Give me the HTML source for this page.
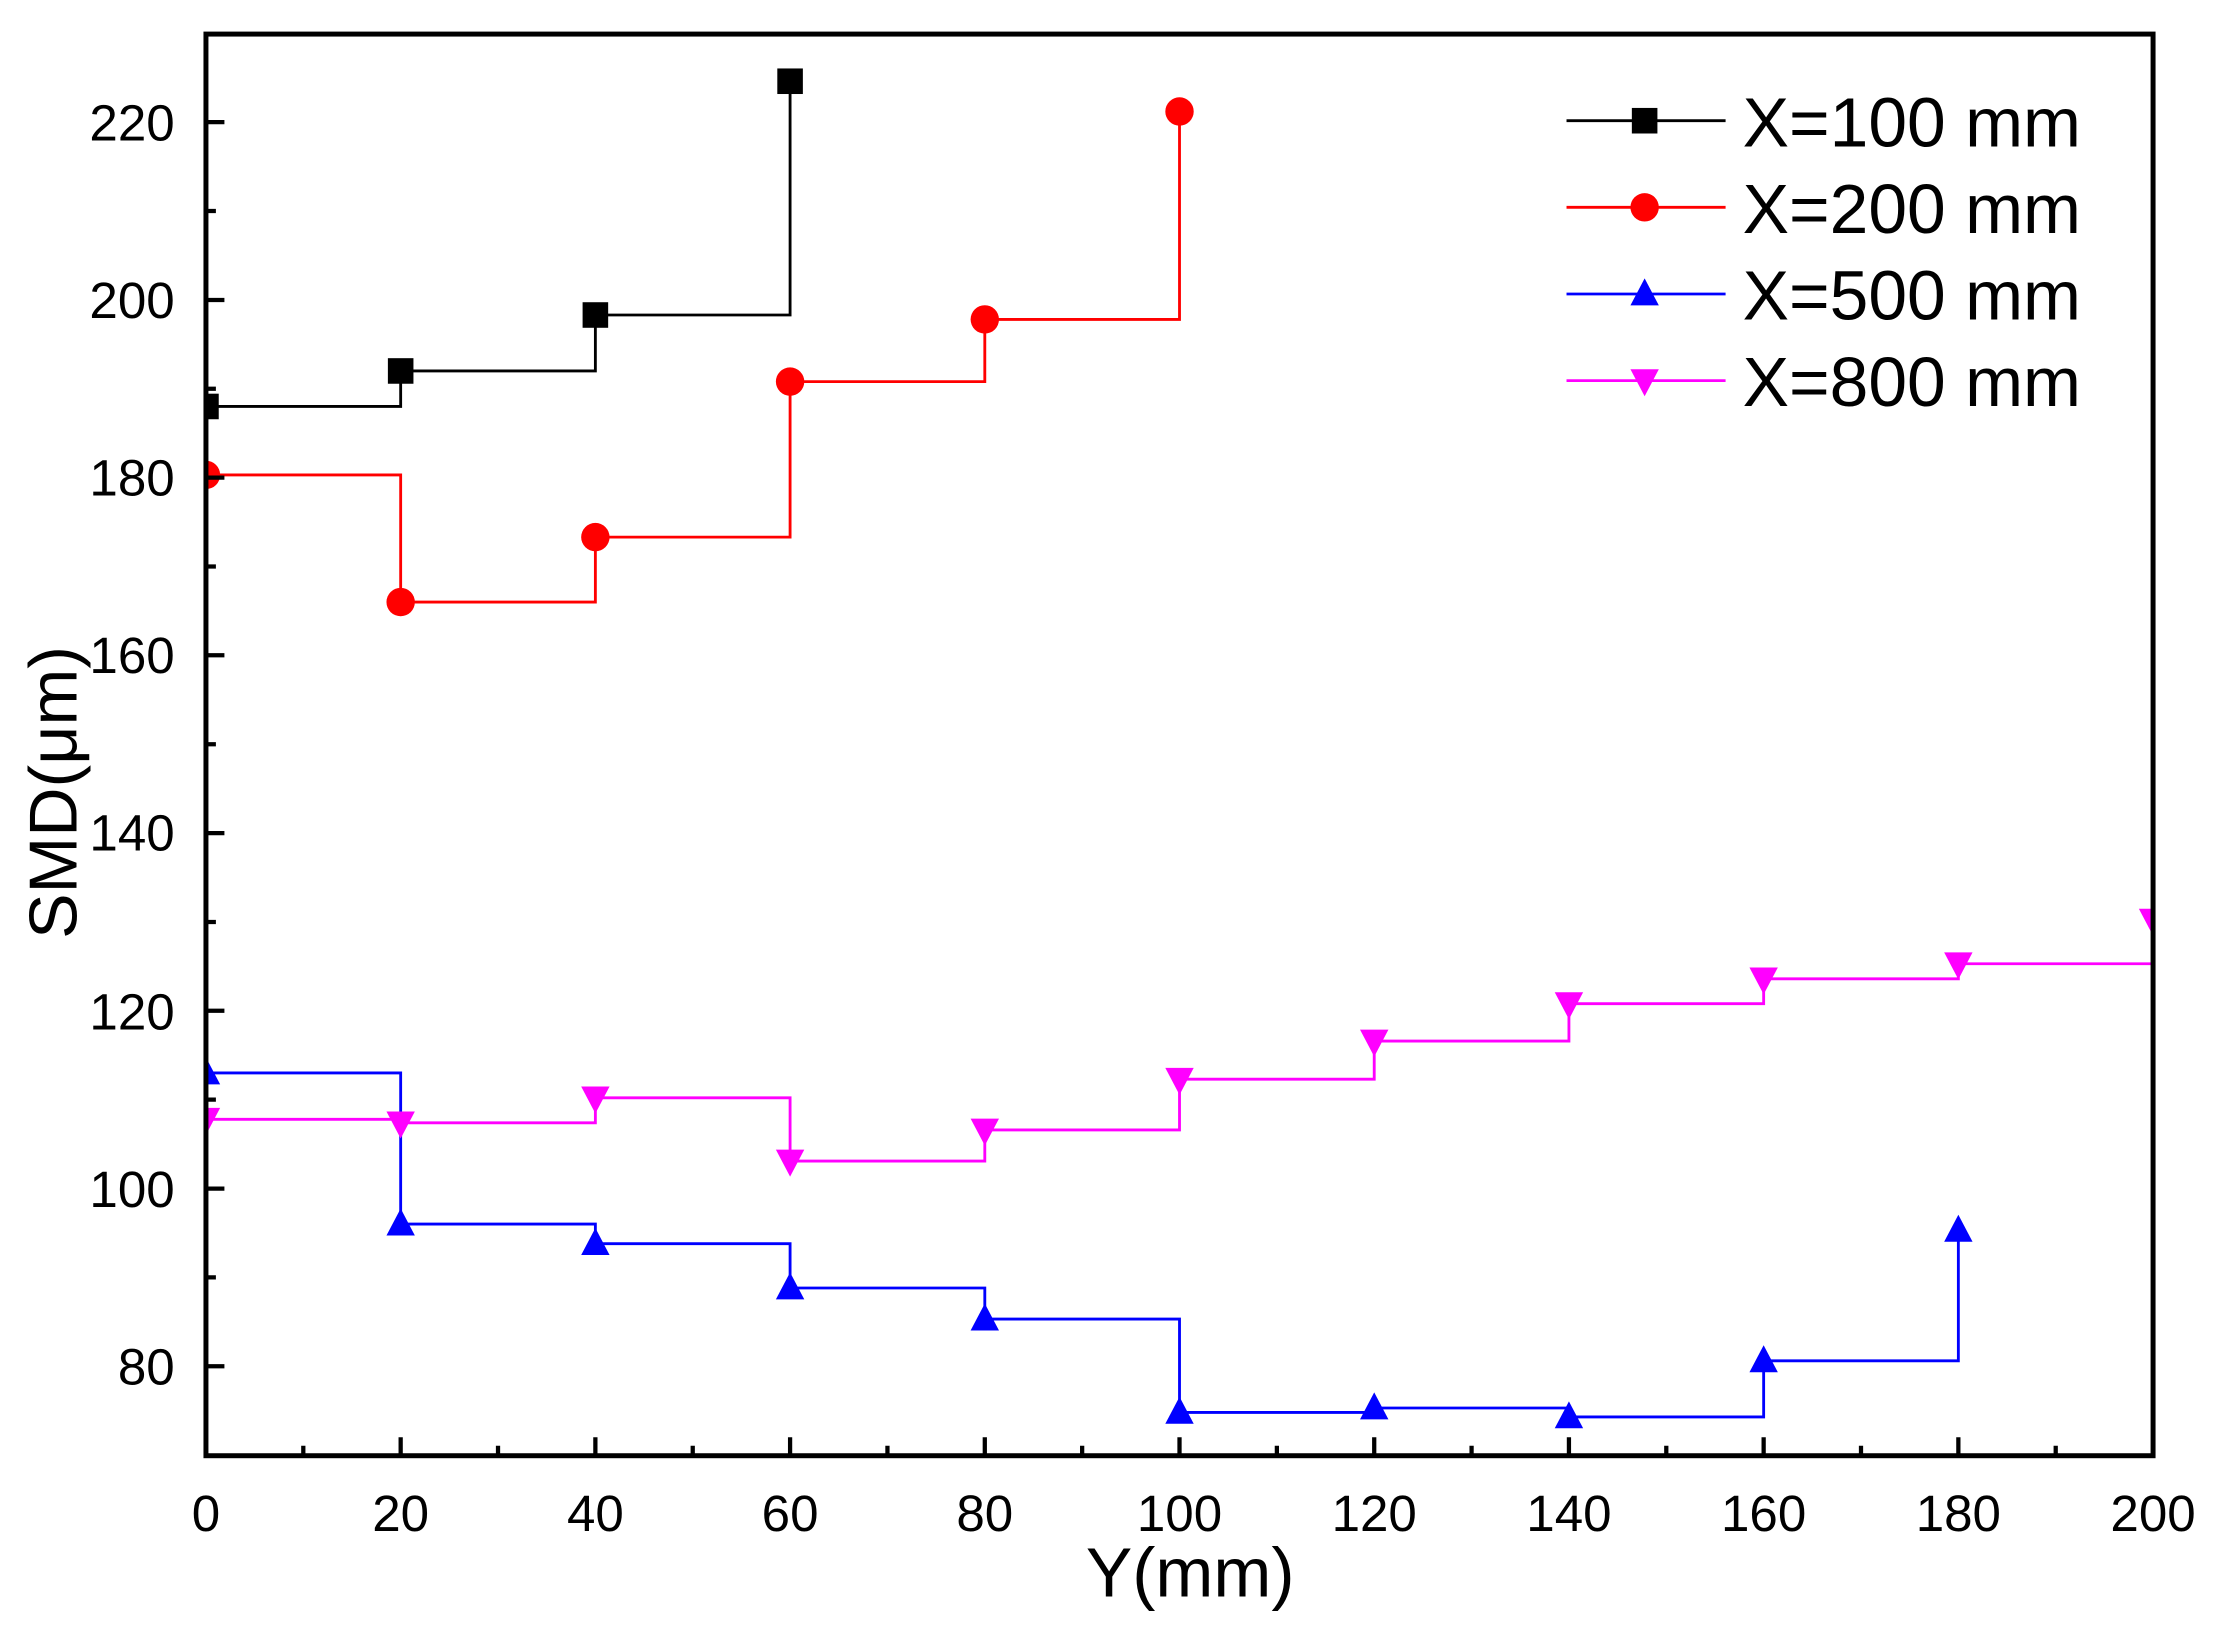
<!DOCTYPE html>
<html><head><meta charset="utf-8"><style>html,body{margin:0;padding:0;background:#fff}svg{display:block}</style></head>
<body>
<svg width="2217" height="1627" viewBox="0 0 1561 1145.6" xmlns="http://www.w3.org/2000/svg" xmlns:xlink="http://www.w3.org/1999/xlink" font-family="Liberation Sans, Arial, sans-serif">
<defs>
<clipPath id="c"><rect x="145" y="24" width="1371" height="1001"/></clipPath>
<rect id="sq" x="-9" y="-9" width="18" height="18" fill="#000"/>
<circle id="ci" cx="0" cy="0" r="10" fill="#ff0000"/>
<polygon id="up" points="0,-11 -10,8 10,8" fill="#0000ff"/>
<polygon id="dn" points="0,11 -10,-8 10,-8" fill="#ff00ff"/>
</defs>
<rect width="1561" height="1146" fill="#fff"/>
<g clip-path="url(#c)" fill="none" stroke-width="2">
<path stroke="#000" d="M145,286.2 H282.1 V261.2 H419.2 V221.8 H556.3 V57.2"/>
<path stroke="#ff0000" d="M145,334.4 H282.1 V423.9 H419.2 V378.2 H556.3 V268.7 H693.4 V224.9 H830.5 V78.5"/>
<path stroke="#0000ff" d="M145,755.5 H282.1 V861.9 H419.2 V875.7 H556.3 V906.9 H693.4 V928.8 H830.5 V994.5 H967.6 V991.4 H1104.7 V997.7 H1241.8 V958.2 H1378.9 V866.3"/>
<path stroke="#ff00ff" d="M145,788.1 H282.1 V790.6 H419.2 V773 H556.3 V817.5 H693.4 V795.6 H830.5 V759.9 H967.6 V733 H1104.7 V706.7 H1241.8 V689.2 H1378.9 V678.6 H1516 V647.9"/>
<use xlink:href="#sq" x="145" y="286.2"/><use xlink:href="#sq" x="282.1" y="261.2"/><use xlink:href="#sq" x="419.2" y="221.8"/><use xlink:href="#sq" x="556.3" y="57.2"/>
<use xlink:href="#ci" x="145" y="334.4"/><use xlink:href="#ci" x="282.1" y="423.9"/><use xlink:href="#ci" x="419.2" y="378.2"/><use xlink:href="#ci" x="556.3" y="268.7"/><use xlink:href="#ci" x="693.4" y="224.9"/><use xlink:href="#ci" x="830.5" y="78.5"/>
<use xlink:href="#up" x="145" y="755.5"/><use xlink:href="#up" x="282.1" y="861.9"/><use xlink:href="#up" x="419.2" y="875.7"/><use xlink:href="#up" x="556.3" y="906.9"/><use xlink:href="#up" x="693.4" y="928.8"/><use xlink:href="#up" x="830.5" y="994.5"/><use xlink:href="#up" x="967.6" y="991.4"/><use xlink:href="#up" x="1104.7" y="997.7"/><use xlink:href="#up" x="1241.8" y="958.2"/><use xlink:href="#up" x="1378.9" y="866.3"/>
<use xlink:href="#dn" x="145" y="788.1"/><use xlink:href="#dn" x="282.1" y="790.6"/><use xlink:href="#dn" x="419.2" y="773"/><use xlink:href="#dn" x="556.3" y="817.5"/><use xlink:href="#dn" x="693.4" y="795.6"/><use xlink:href="#dn" x="830.5" y="759.9"/><use xlink:href="#dn" x="967.6" y="733"/><use xlink:href="#dn" x="1104.7" y="706.7"/><use xlink:href="#dn" x="1241.8" y="689.2"/><use xlink:href="#dn" x="1378.9" y="678.6"/><use xlink:href="#dn" x="1516" y="647.9"/>
</g>
<rect x="145" y="24" width="1371" height="1001" fill="none" stroke="#000" stroke-width="3.5"/>
<path stroke="#000" stroke-width="3" fill="none" d="
M213.55,1025V1018 M282.1,1025V1012 M350.65,1025V1018 M419.2,1025V1012 M487.75,1025V1018 M556.3,1025V1012 M624.85,1025V1018 M693.4,1025V1012 M761.95,1025V1018 M830.5,1025V1012 M899.05,1025V1018 M967.6,1025V1012 M1036.15,1025V1018 M1104.7,1025V1012 M1173.25,1025V1018 M1241.8,1025V1012 M1310.35,1025V1018 M1378.9,1025V1012 M1447.45,1025V1018
M145,962H158 M145,899.4H152 M145,836.9H158 M145,774.3H152 M145,711.7H158 M145,649.2H152 M145,586.6H158 M145,524H152 M145,461.4H158 M145,398.9H152 M145,336.3H158 M145,273.7H152 M145,211.2H158 M145,148.6H152 M145,86H158"/>
<g font-size="36" fill="#000" text-anchor="middle">
<text x="145" y="1078">0</text><text x="282.1" y="1078">20</text><text x="419.2" y="1078">40</text><text x="556.3" y="1078">60</text><text x="693.4" y="1078">80</text><text x="830.5" y="1078">100</text><text x="967.6" y="1078">120</text><text x="1104.7" y="1078">140</text><text x="1241.8" y="1078">160</text><text x="1378.9" y="1078">180</text><text x="1516" y="1078">200</text>
</g>
<g font-size="36" fill="#000" text-anchor="end">
<text x="123" y="975">80</text><text x="123" y="850">100</text><text x="123" y="725">120</text><text x="123" y="599">140</text><text x="123" y="474">160</text><text x="123" y="349">180</text><text x="123" y="224">200</text><text x="123" y="99">220</text>
</g>
<text x="838" y="1124" font-size="49" text-anchor="middle">Y(mm)</text>
<text transform="translate(54,558) rotate(-90)" font-size="48" text-anchor="middle">SMD(μm)</text>
<g stroke-width="2">
<line x1="1103" x2="1215" y1="85" y2="85" stroke="#000"/><use xlink:href="#sq" x="1158" y="85"/>
<line x1="1103" x2="1215" y1="146" y2="146" stroke="#ff0000"/><use xlink:href="#ci" x="1158" y="146"/>
<line x1="1103" x2="1215" y1="207" y2="207" stroke="#0000ff"/><use xlink:href="#up" x="1158" y="207"/>
<line x1="1103" x2="1215" y1="268" y2="268" stroke="#ff00ff"/><use xlink:href="#dn" x="1158" y="268"/>
</g>
<g font-size="49" fill="#000">
<text x="1227" y="103">X=100 mm</text><text x="1227" y="164">X=200 mm</text><text x="1227" y="225">X=500 mm</text><text x="1227" y="286">X=800 mm</text>
</g>
</svg>
</body></html>
